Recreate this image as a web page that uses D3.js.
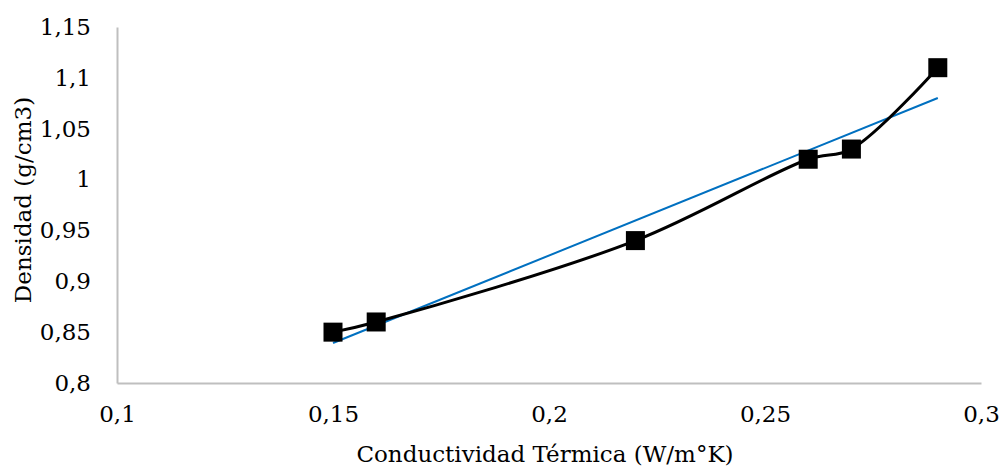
<!DOCTYPE html>
<html>
<head>
<meta charset="utf-8">
<script src="https://cdn.jsdelivr.net/npm/d3@7"></script>
<style>
  body { margin: 0; background: #fff; }
  text { font-family: "DejaVu Serif", serif; fill: #000; }
</style>
</head>
<body>
<div id="chart"></div>
<script>
'use strict';

// measured points
const conductividad = [0.15, 0.16, 0.22, 0.26, 0.27, 0.29];
const densidad = [0.85, 0.86, 0.94, 1.02, 1.03, 1.11];

const xTicks = [0.1, 0.15, 0.2, 0.25, 0.3];
const yTicks = [0.8, 0.85, 0.9, 0.95, 1, 1.05, 1.1, 1.15];

const width = 1000;
const height = 468;
const margin = { top: 27, right: 19, bottom: 85, left: 117 };
const fontSize = 23;

const fmt = d => String(d).replace('.', ',');

let svg = d3.select('#chart').append('svg')
    .attr('width', width)
    .attr('height', height);

let x = d3.scaleLinear().domain([0.1, 0.3]).range([margin.left, width - margin.right]);
let y = d3.scaleLinear().domain([0.8, 1.15]).range([height - margin.bottom, margin.top]);

// axes (no tick marks, grey lines)
let xAxis = svg.append('g')
    .attr('transform', 'translate(0,' + y(0.8) + ')')
    .call(d3.axisBottom(x).tickValues(xTicks).tickFormat(fmt).tickSize(0).tickPadding(23));
let yAxis = svg.append('g')
    .attr('transform', 'translate(' + x(0.1) + ',0)')
    .call(d3.axisLeft(y).tickValues(yTicks).tickFormat(fmt).tickSize(0).tickPadding(26));

[xAxis, yAxis].forEach(a => {
    a.select('.domain').attr('stroke', '#bfbfbf').attr('stroke-width', 2);
    a.selectAll('text').attr('font-size', fontSize).attr('font-family', '"DejaVu Serif", serif');
});

// linear trendline (least squares over the points)
let mx = d3.mean(conductividad);
let my = d3.mean(densidad);
let sxy = d3.sum(conductividad, (c, i) => (c - mx) * (densidad[i] - my));
let sxx = d3.sum(conductividad, c => (c - mx) * (c - mx));
let slope = sxy / sxx;
let icpt = my - slope * mx;
let xr = d3.extent(conductividad);

svg.append('line')
    .attr('x1', x(xr[0])).attr('y1', y(icpt + slope * xr[0]))
    .attr('x2', x(xr[1])).attr('y2', y(icpt + slope * xr[1]))
    .attr('stroke', '#0070c0')
    .attr('stroke-width', 2);

let pts = conductividad.map((c, i) => [c, densidad[i]]);

let line = d3.line()
    .x(d => x(d[0]))
    .y(d => y(d[1]))
    .curve(d3.curveCatmullRom.alpha(0.5));

svg.append('path')
    .datum(pts)
    .attr('d', line)
    .attr('fill', 'none')
    .attr('stroke', '#000')
    .attr('stroke-width', 3);

let s = 19;
svg.selectAll('rect.m').data(pts).enter().append('rect')
    .attr('class', 'm')
    .attr('x', d => x(d[0]) - s / 2)
    .attr('y', d => y(d[1]) - s / 2)
    .attr('width', s)
    .attr('height', s)
    .attr('fill', '#000');

// axis titles
svg.append('text')
    .attr('x', 545)
    .attr('y', 462)
    .attr('text-anchor', 'middle')
    .attr('font-size', fontSize)
    .text('Conductividad Térmica (W/m°K)');

svg.append('text')
    .attr('transform', 'translate(31,200) rotate(-90)')
    .attr('text-anchor', 'middle')
    .attr('font-size', fontSize)
    .text('Densidad (g/cm3)');
</script>
</body>
</html>
